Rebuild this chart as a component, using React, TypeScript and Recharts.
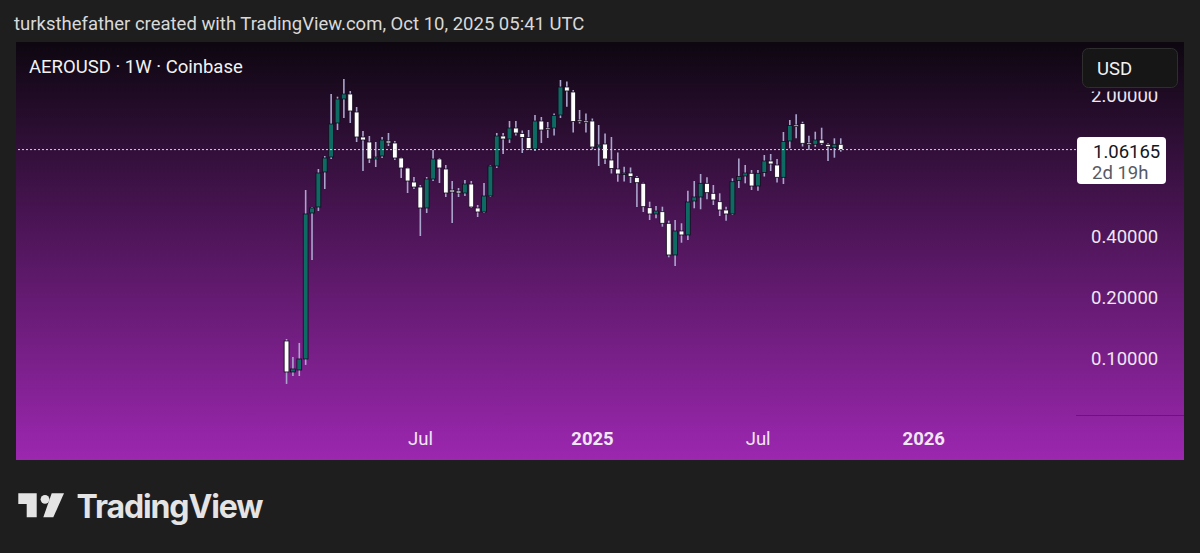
import React from 'react'
import { Bar, ComposedChart, ReferenceLine, XAxis, YAxis } from 'recharts'

// weekly AERO/USD candles (Coinbase), week start dates
const weeks = [
  '2024-02-05', '2024-02-12', '2024-02-19', '2024-02-26', '2024-03-04', '2024-03-11', '2024-03-18', '2024-03-25',
  '2024-04-01', '2024-04-08', '2024-04-15', '2024-04-22', '2024-04-29', '2024-05-06', '2024-05-13', '2024-05-20',
  '2024-05-27', '2024-06-03', '2024-06-10', '2024-06-17', '2024-06-24', '2024-07-01', '2024-07-08', '2024-07-15',
  '2024-07-22', '2024-07-29', '2024-08-05', '2024-08-12', '2024-08-19', '2024-08-26', '2024-09-02', '2024-09-09',
  '2024-09-16', '2024-09-23', '2024-09-30', '2024-10-07', '2024-10-14', '2024-10-21', '2024-10-28', '2024-11-04',
  '2024-11-11', '2024-11-18', '2024-11-25', '2024-12-02', '2024-12-09', '2024-12-16', '2024-12-23', '2024-12-30',
  '2025-01-06', '2025-01-13', '2025-01-20', '2025-01-27', '2025-02-03', '2025-02-10', '2025-02-17', '2025-02-24',
  '2025-03-03', '2025-03-10', '2025-03-17', '2025-03-24', '2025-03-31', '2025-04-07', '2025-04-14', '2025-04-21',
  '2025-04-28', '2025-05-05', '2025-05-12', '2025-05-19', '2025-05-26', '2025-06-02', '2025-06-09', '2025-06-16',
  '2025-06-23', '2025-06-30', '2025-07-07', '2025-07-14', '2025-07-21', '2025-07-28', '2025-08-04', '2025-08-11',
  '2025-08-18', '2025-08-25', '2025-09-01', '2025-09-08', '2025-09-15', '2025-09-22', '2025-09-29', '2025-10-06',
]

const opens = [
  0.1194, 0.0838, 0.0857, 0.0972, 0.5148, 0.5513, 0.8222, 0.9758, 1.4385, 1.8925,
  2.0034, 1.6314, 1.2261, 1.1581, 0.9538, 0.987, 1.1714, 1.145, 0.9648, 0.8606,
  0.7333, 0.6926, 0.5451, 0.7588, 0.9538, 0.8509, 0.6693, 0.6618, 0.6468, 0.7168,
  0.5451, 0.5207, 0.625, 0.8806, 1.2402, 1.1984, 1.3586, 1.2761, 1.2192, 1.0691,
  1.4717, 1.3586, 1.3586, 1.5759, 2.1704, 2.0499, 1.4886, 1.4717, 1.4717, 1.0938,
  1.1319, 0.943, 0.8509, 0.8082, 0.8129, 0.7719, 0.7225, 0.5469, 0.509, 0.5225,
  0.4577, 0.3187, 0.4192, 0.4005, 0.5904, 0.618, 0.7225, 0.6446, 0.5857, 0.5328,
  0.509, 0.746, 0.7853, 0.8101, 0.7006, 0.8175, 0.9323, 0.8906, 0.7737, 1.1714,
  1.4061, 1.4303, 1.145, 1.1281, 1.1848, 1.1281, 1.0852, 1.1281,
]

const highs = [
  0.1221, 0.0994, 0.1167, 0.6693, 0.5513, 0.8509, 0.987, 2.0034, 1.9427, 2.3778,
  2.0735, 1.7272, 1.313, 1.2402, 1.1581, 1.2261, 1.2834, 1.1714, 0.97, 0.865,
  0.7764, 0.7086, 0.7764, 1.057, 0.9648, 0.8906, 0.7417, 0.6848, 0.7502, 0.7417,
  0.564, 0.725, 0.8906, 1.2834, 1.2834, 1.4717, 1.4717, 1.3205, 1.328, 1.5759,
  1.5403, 1.455, 1.6037, 2.3509, 2.3109, 2.0973, 1.669, 1.6037, 1.5142, 1.4061,
  1.2761, 1.2261, 1.0273, 0.8735, 0.8656, 0.7853, 0.7275, 0.5857, 0.5576, 0.5532,
  0.4715, 0.4753, 0.4577, 0.664, 0.7417, 0.8037, 0.7737, 0.7086, 0.6446, 0.5532,
  0.7649, 0.9593, 0.8906, 0.8412, 0.8412, 0.9984, 1.0098, 0.9538, 1.2982, 1.4886,
  1.5886, 1.46, 1.2444, 1.3025, 1.3634, 1.141, 1.208, 1.208,
]

const lows = [
  0.0731, 0.08, 0.08, 0.0908, 0.301, 0.5267, 0.677, 0.9538, 1.328, 1.5229,
  1.4385, 1.1581, 0.8317, 0.9113, 0.8705, 0.9648, 1.1064, 0.943, 0.7676, 0.6468,
  0.677, 0.3958, 0.5148, 0.7417, 0.725, 0.618, 0.4593, 0.618, 0.625, 0.5451,
  0.4918, 0.5148, 0.618, 0.8606, 1.0098, 1.145, 1.2472, 1.0214, 1.057, 1.045,
  1.145, 1.2122, 1.2472, 1.5229, 1.7331, 1.2906, 1.4303, 1.2906, 1.0631, 0.8806,
  0.9009, 0.8082, 0.7358, 0.7375, 0.725, 0.5513, 0.5207, 0.4753, 0.4846, 0.4403,
  0.3104, 0.2811, 0.3666, 0.3781, 0.5432, 0.537, 0.602, 0.564, 0.4975, 0.4715,
  0.5032, 0.6848, 0.7225, 0.6693, 0.664, 0.7808, 0.8317, 0.7292, 0.7168, 1.0778,
  1.208, 1.1001, 1.057, 1.0976, 1.1191, 0.9323, 0.9681, 1.0367,
]

const closes = [
  0.0838, 0.0867, 0.0972, 0.509, 0.5451, 0.8129, 0.9648, 1.4222, 1.8925, 2.0034,
  1.6501, 1.2261, 1.1848, 0.9538, 0.9758, 1.1848, 1.145, 0.9648, 0.8606, 0.7417,
  0.6926, 0.5451, 0.7588, 0.9538, 0.8606, 0.6468, 0.6542, 0.6468, 0.7168, 0.5513,
  0.5207, 0.625, 0.8806, 1.2402, 1.1984, 1.3586, 1.2834, 1.2192, 1.0753, 1.4717,
  1.328, 1.3433, 1.567, 2.1704, 2.0735, 1.4633, 1.4717, 1.455, 1.0938, 1.1191,
  0.9538, 0.8558, 0.8037, 0.8129, 0.7808, 0.7275, 0.5532, 0.509, 0.5267, 0.4577,
  0.3187, 0.4192, 0.4005, 0.5837, 0.618, 0.7225, 0.6491, 0.5972, 0.5328, 0.509,
  0.7358, 0.7808, 0.8129, 0.7006, 0.8101, 0.9323, 0.9009, 0.7737, 1.1647, 1.398,
  1.3884, 1.141, 1.1383, 1.1848, 1.141, 1.0976, 1.1281, 1.06165,
]

const priceTicks = [0.1, 0.2, 0.4, 2]
const timeTicks = [21, 48, 74, 100] // week index of first bar of Jul 2024, 2025, Jul 2025, 2026
const timeLabels = ['Jul', '2025', 'Jul', '2026']
const lastPrice = 1.06165
const countdown = '2d 19h'

const UP = '#0d6b64'
const DOWN = '#ffffff'
const WICK = '#aba5cd'
const OUTLINE = '#150b1d'
const AXIS_TEXT = '#efe7f3'
const FONT = 'Roboto, sans-serif'

const rows = weeks.map((week, i) => ({
  t: i,
  week,
  open: opens[i],
  high: highs[i],
  low: lows[i],
  close: closes[i],
  range: [lows[i], highs[i]],
}))

function Candle(props: any) {
  const { x, y, width, height, payload } = props
  if (!payload || height == null || Number.isNaN(y)) return null
  const top = Math.min(y, y + height)
  const h = Math.abs(height)
  const lh = Math.log(payload.high)
  const ll = Math.log(payload.low)
  const toY = (p: number) => top + (h * (lh - Math.log(p))) / (lh - ll || 1)
  const cx = x + width / 2
  const up = payload.close >= payload.open
  const bTop = toY(Math.max(payload.open, payload.close))
  const bBot = toY(Math.min(payload.open, payload.close))
  const bh = Math.max(bBot - bTop, 1.6)
  return (
    <g>
      <line x1={cx} x2={cx} y1={top} y2={top + h} stroke={WICK} strokeWidth={1.6} />
      <rect x={cx - 2.4} y={bTop} width={4.8} height={bh} fill={up ? UP : DOWN} stroke={OUTLINE} strokeWidth={0.8} />
    </g>
  )
}

function PriceTick(props: any) {
  const { x, y, payload } = props
  return (
    <text x={x + 15} y={y + 8.2} fill={AXIS_TEXT} fontSize={18.5} fontFamily={FONT}>
      {payload.value.toFixed(5)}
    </text>
  )
}

function TimeTick(props: any) {
  const { x, y, payload } = props
  const label = timeLabels[timeTicks.indexOf(payload.value)] ?? ''
  const isYear = /^\d+$/.test(label)
  return (
    <text x={x} y={y + 29.6} textAnchor="middle" fill={AXIS_TEXT} fontSize={18.5} fontWeight={isYear ? 700 : 400} fontFamily={FONT}>
      {label}
    </text>
  )
}

function PriceTag(props: any) {
  const vb = props.viewBox
  if (!vb) return null
  const x = vb.x + vb.width + 1
  const y = vb.y
  return (
    <g>
      <rect x={x} y={y - 12.5} width={89} height={47} rx={4} fill="#ffffff" />
      <text x={x + 16} y={y + 8} fill="#131722" fontSize={18.5} fontFamily={FONT}>
        {lastPrice.toFixed(5)}
      </text>
      <text x={x + 15} y={y + 29} fill="#555a66" fontSize={18.5} fontFamily={FONT}>
        {countdown}
      </text>
    </g>
  )
}

export default function App() {
  return (
    <div
      style={{
        position: 'absolute',
        left: 0,
        top: 0,
        width: 1200,
        height: 553,
        background: '#1e1e1e',
        overflow: 'hidden',
        fontFamily: FONT,
      }}
    >
      <div
        style={{
          position: 'absolute',
          left: 16,
          top: 42,
          width: 1168,
          height: 418,
          background: 'linear-gradient(#0d0710, #9c27b0)',
        }}
      >
        <ComposedChart width={1168} height={418} data={rows} margin={{ top: 0, right: 0, bottom: 0, left: 0 }}>
          <XAxis
            dataKey="t"
            type="number"
            domain={[-42.5, 123.9]}
            allowDataOverflow
            ticks={timeTicks}
            tick={<TimeTick />}
            axisLine={false}
            tickLine={false}
            tickSize={0}
            tickMargin={0}
            height={45}
            interval={0}
          />
          <YAxis
            orientation="right"
            scale="log"
            domain={[0.05126, 3.628]}
            allowDataOverflow
            ticks={priceTicks}
            tick={<PriceTick />}
            axisLine={false}
            tickLine={false}
            tickSize={0}
            tickMargin={0}
            width={108}
            interval={0}
          />
          <ReferenceLine y={lastPrice} stroke="#ddd0e6" strokeDasharray="2 2" strokeWidth={1} label={<PriceTag />} />
          <Bar dataKey="range" barSize={6} shape={<Candle />} isAnimationActive={false} />
        </ComposedChart>
      </div>

      <svg width={1200} height={553} style={{ position: 'absolute', left: 0, top: 0, pointerEvents: 'none' }}>
        <text x={14} y={29.5} fill="#d9d9d9" fontSize={18.5} fontFamily={FONT}>
          turksthefather created with TradingView.com, Oct 10, 2025 05:41 UTC
        </text>
        <text x={29} y={73} fill="#f2f2f2" fontSize={18.5} fontFamily={FONT}>
          AEROUSD · 1W · Coinbase
        </text>
        <rect x={1077} y={88} width={107} height={3.5} fill="#1d0b22" />
        <rect x={1082.5} y={48.5} width={95} height={39} rx={6} fill="#161616" stroke="#2e2e2e" />
        <text x={1097} y={74.5} fill="#f2f2f2" fontSize={18.5} fontFamily={FONT}>
          USD
        </text>
        <line x1={1076} x2={1184} y1={415.5} y2={415.5} stroke="#66177a" strokeWidth={1.2} />
        <g fill="#e4e4e4">
          <path d="M18.3 493.3 H36.7 V517.3 H26.7 V504 H18.3 Z" />
          <circle cx={45} cy={499.3} r={4.4} />
          <path d="M51.7 493.3 H64 L53.3 517.3 H43.3 Z" />
        </g>
        <text x={76.5} y={518} fill="#e4e4e4" fontSize={32} fontWeight={700} fontFamily="Inter, sans-serif" textLength={187} lengthAdjust="spacing">
          TradingView
        </text>
      </svg>
    </div>
  )
}
